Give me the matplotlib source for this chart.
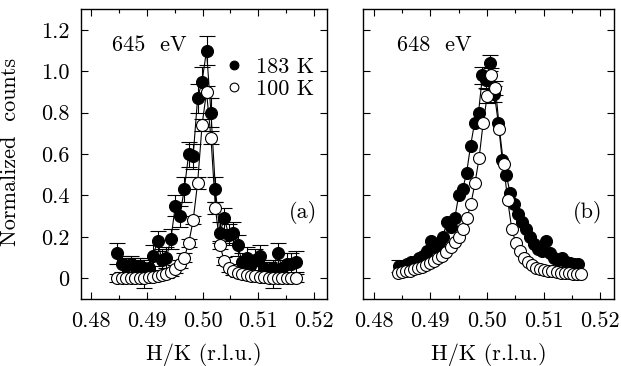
import numpy as np
import matplotlib
matplotlib.use("Agg")
import matplotlib.pyplot as plt
from matplotlib.lines import Line2D

plt.rcParams['font.family'] = ['cmr10', 'DejaVu Serif']
plt.rcParams['axes.formatter.use_mathtext'] = True
plt.rcParams['mathtext.fontset'] = 'cm'

nan = float('nan')

# ---- panel (a): 645 eV ----
x_a = [0.4847 + 0.0008 * i for i in range(41)]
y_a_183 = [0.12, 0.07, 0.06, 0.07, 0.06, 0.06, 0.05, 0.05, 0.11, 0.18,
           0.09, 0.10, 0.19, 0.35, 0.30, 0.43, 0.60, 0.59, 0.87, 0.95,
           1.10, 0.80, 0.43, 0.22, 0.29, 0.21, 0.22, 0.16, 0.08, 0.10,
           0.07, 0.09, 0.11, 0.05, 0.04, 0.05, 0.12, 0.05, 0.07, 0.07, 0.08]
e_a_183 = [0.05, 0.04, 0.04, 0.04, 0.04, 0.04, 0.04, 0.04, 0.05, 0.05,
           0.05, 0.05, 0.05, 0.05, 0.05, 0.06, 0.06, 0.06, 0.07, 0.07,
           0.07, 0.07, 0.06, 0.05, 0.05, 0.05, 0.05, 0.05, 0.04, 0.05,
           0.04, 0.05, 0.05, 0.04, 0.04, 0.04, 0.05, 0.04, 0.05, 0.05, 0.05]
y_a_100 = [0.00, 0.00, 0.00, 0.00, 0.00, 0.00, 0.00, 0.005, 0.008, 0.01,
           0.015, 0.02, 0.03, 0.044, 0.068, 0.10, 0.17, 0.28, 0.46, 0.74,
           0.90, 0.68, 0.34, 0.16, 0.084, 0.05, 0.035, 0.025, 0.02, 0.015,
           0.01, 0.01, 0.008, 0.005, 0.00, 0.00, 0.00, 0.00, 0.00, 0.00, 0.00]
e_a_100 = [0.02, 0.02, 0.02, 0.02, 0.02, 0.02, 0.045, 0.02, 0.02, 0.02,
           0.02, 0.02, 0.02, 0.02, 0.02, 0.02, 0.02, 0.02, 0.03, 0.03,
           0.03, 0.03, 0.03, 0.02, 0.02, 0.02, 0.02, 0.02, 0.02, 0.02,
           0.02, 0.02, 0.02, 0.02, 0.02, 0.045, 0.02, 0.02, 0.02, 0.02, 0.02]

# ---- panel (b): 648 eV ----
x_b_183 = [0.4845 + 0.0007 * i for i in range(46)]
y_b_183 = [0.06, 0.05, 0.07, 0.08, 0.08, 0.10, 0.11, 0.13, 0.18, 0.15,
           0.17, 0.20, 0.27, 0.25, 0.29, 0.40, 0.43, 0.51, 0.64, 0.75,
           0.80, 0.98, 0.96, 1.04, 0.89, 0.75, 0.57, 0.50, 0.41, 0.36,
           0.31, 0.27, 0.24, 0.20, 0.165, 0.14, 0.13, 0.18, 0.12, 0.10,
           0.09, 0.10, 0.08, 0.076, 0.07, 0.068]
e_b_183 = [0.03] + [nan] * 20 + [0.04, 0.04, 0.04, 0.04] + [nan] * 21
x_b_100 = [0.4842 + 0.00072 * i for i in range(46)]
y_b_100 = [0.028, 0.030, 0.033, 0.037, 0.043, 0.049, 0.056, 0.064, 0.075, 0.086,
           0.097, 0.11, 0.125, 0.15, 0.175, 0.20, 0.24, 0.29, 0.36, 0.46,
           0.58, 0.75, 0.88, 0.98, 0.92, 0.72, 0.55, 0.38, 0.24, 0.17,
           0.13, 0.10, 0.078, 0.062, 0.052, 0.045, 0.040, 0.036, 0.033, 0.030,
           0.028, 0.026, 0.025, 0.023, 0.022, 0.020]
e_b_100 = [nan] * 22 + [0.035, 0.035, 0.035] + [nan] * 21

x_ticks = [0.48, 0.49, 0.50, 0.51, 0.52]
x_tick_labels = ['0.48', '0.49', '0.50', '0.51', '0.52']
y_ticks = [0, 0.2, 0.4, 0.6, 0.8, 1.0, 1.2]
y_tick_labels = ['0', '0.2', '0.4', '0.6', '0.8', '1.0', '1.2']

fs = 16

fig = plt.figure(figsize=(6.21, 3.66), dpi=100)
ax1 = fig.add_axes([0.130, 0.183, 0.397, 0.792])
ax2 = fig.add_axes([0.5845, 0.183, 0.404, 0.792])

ms = 8.6
common = dict(color='k', lw=0.8, elinewidth=0.8, capsize=6, capthick=0.8,
              marker='o', ms=ms, mec='k', mew=0.8)


def draw(ax, xf, yf, ef, xo, yo, eo):
    ax.errorbar(xf, yf, yerr=ef, mfc='k', zorder=2, **common)
    ax.errorbar(xo, yo, yerr=eo, mfc='white', zorder=3, **common)


draw(ax1, x_a, y_a_183, e_a_183, x_a, y_a_100, e_a_100)
draw(ax2, x_b_183, y_b_183, e_b_183, x_b_100, y_b_100, e_b_100)

for ax in (ax1, ax2):
    ax.set_xlim(0.4781, 0.5224)
    ax.set_ylim(-0.1, 1.3)
    ax.set_xticks(x_ticks)
    ax.set_xticklabels(x_tick_labels)
    ax.set_xticks(np.arange(0.485, 0.52, 0.01), minor=True)
    ax.set_yticks(y_ticks)
    ax.tick_params(which='both', direction='in', top=True, right=True,
                   labelsize=fs, width=0.8)
    ax.tick_params(which='major', length=5)
    ax.tick_params(which='minor', length=3)
    ax.tick_params(axis='x', pad=9)
    ax.tick_params(axis='y', pad=8)
    for s in ax.spines.values():
        s.set_linewidth(1.0)
    ax.set_xlabel('H/K (r.l.u.)', fontsize=fs)
    ax.xaxis.set_label_coords(0.5, -0.152)

ax1.set_yticklabels(y_tick_labels)
ax2.set_yticklabels([])
ax1.set_ylabel('Normalized  counts', fontsize=fs)
ax1.yaxis.set_label_coords(-0.245, 0.509)

ax1.text(0.126, 0.876, '645  eV', transform=ax1.transAxes, fontsize=fs,
         ha='left', va='center')
ax2.text(0.134, 0.876, '648  eV', transform=ax2.transAxes, fontsize=fs,
         ha='left', va='center')
ax1.text(0.958, 0.30, '(a)', transform=ax1.transAxes, fontsize=fs,
         ha='right', va='center')
ax2.text(0.956, 0.30, '(b)', transform=ax2.transAxes, fontsize=fs,
         ha='right', va='center')

handles = [Line2D([], [], ls='none', marker='o', ms=6.3, mfc='k', mec='k', mew=0.8),
           Line2D([], [], ls='none', marker='o', ms=6.3, mfc='white', mec='k', mew=0.8)]
ax1.legend(handles, ['183 K', '100 K'], loc='upper right',
           bbox_to_anchor=(1.01, 0.888), frameon=False, fontsize=fs,
           handlelength=0.8, handletextpad=0.6, labelspacing=0.1,
           borderpad=0.2)

fig.savefig('out.png', dpi=100)
